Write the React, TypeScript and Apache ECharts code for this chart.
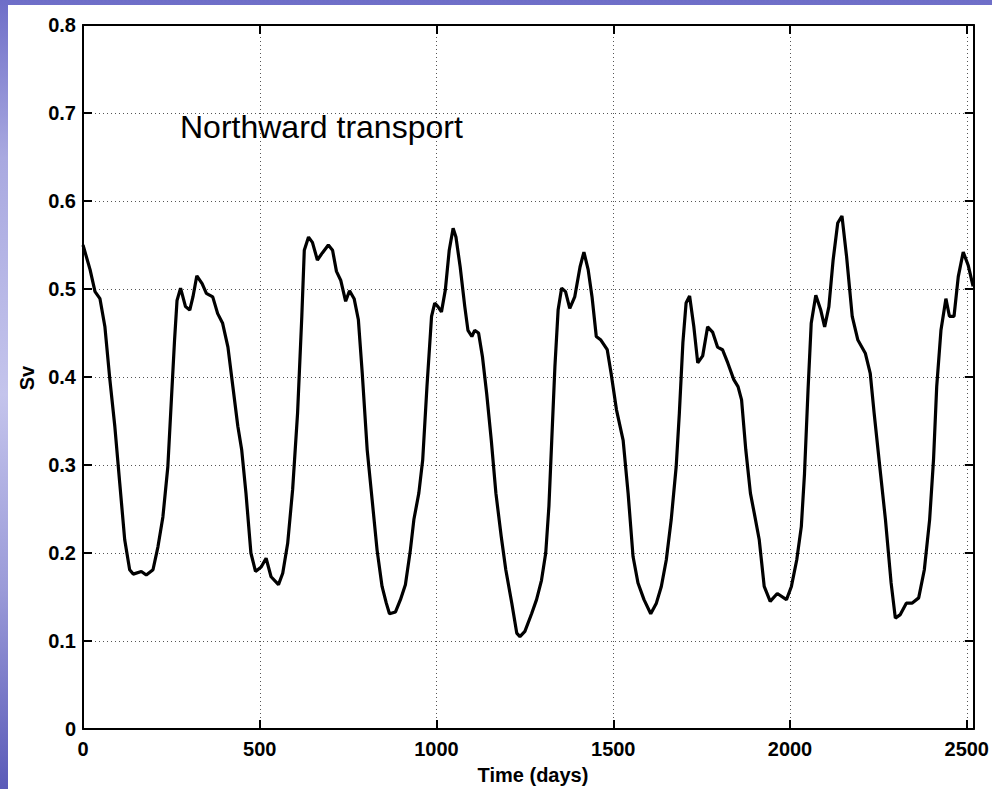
import React, { useEffect, useRef } from "react";
import * as echarts from "echarts";

const tDays: number[] = [
  0, 20, 34, 48, 62, 76, 90, 104, 118, 132, 142, 165, 179, 198, 212, 226, 240, 250, 259, 266,
  276, 290, 302, 311, 322, 337, 349, 367, 381, 395, 410, 424, 438, 449, 461, 475, 488, 504, 518, 532,
  553, 565, 579, 593, 607, 619, 626, 638, 649, 663, 677, 694, 706, 717, 729, 743, 754, 767, 779, 790,
  804, 818, 832, 846, 858, 867, 884, 898, 912, 926, 936, 950, 961, 973, 986, 995, 1004, 1014, 1025, 1036,
  1047, 1055, 1067, 1080, 1089, 1100, 1108, 1119, 1130, 1142, 1155, 1168, 1183, 1196, 1213, 1227, 1236, 1250, 1269, 1283,
  1297, 1309, 1318, 1326, 1335, 1344, 1354, 1365, 1377, 1391, 1406, 1417, 1429, 1440, 1452, 1465, 1483, 1494, 1509, 1528,
  1542, 1556, 1570, 1587, 1606, 1622, 1636, 1650, 1664, 1678, 1687, 1697, 1706, 1716, 1728, 1739, 1753, 1767, 1781, 1795,
  1809, 1824, 1841, 1853, 1863, 1875, 1888, 1899, 1913, 1927, 1944, 1964, 1990, 2004, 2019, 2032, 2041, 2051, 2060, 2073,
  2087, 2098, 2110, 2122, 2135, 2147, 2160, 2176, 2192, 2213, 2227, 2238, 2254, 2270, 2286, 2298, 2312, 2329, 2345, 2364,
  2380, 2395, 2406, 2415, 2427, 2441, 2451, 2464, 2476, 2490, 2504, 2518,
];

const svValues: number[] = [
  0.55, 0.522, 0.497, 0.489, 0.457, 0.397, 0.344, 0.279, 0.215, 0.181, 0.176, 0.179, 0.175, 0.181, 0.207, 0.241, 0.298, 0.374, 0.442, 0.487,
  0.501, 0.48, 0.476, 0.491, 0.515, 0.506, 0.495, 0.491, 0.472, 0.461, 0.434, 0.389, 0.344, 0.317, 0.268, 0.2, 0.179, 0.184, 0.194, 0.173,
  0.164, 0.177, 0.211, 0.272, 0.359, 0.469, 0.544, 0.559, 0.553, 0.533, 0.541, 0.55, 0.544, 0.52, 0.51, 0.486, 0.498, 0.489, 0.465, 0.404,
  0.317, 0.26, 0.203, 0.162, 0.143, 0.131, 0.133, 0.147, 0.164, 0.203, 0.238, 0.268, 0.306, 0.389, 0.469, 0.484, 0.48, 0.474, 0.499, 0.544,
  0.569, 0.559, 0.525, 0.48, 0.453, 0.446, 0.453, 0.45, 0.423, 0.381, 0.328, 0.268, 0.219, 0.181, 0.143, 0.109, 0.105, 0.111, 0.131, 0.147,
  0.169, 0.2, 0.253, 0.328, 0.412, 0.476, 0.501, 0.497, 0.478, 0.491, 0.525, 0.542, 0.522, 0.491, 0.446, 0.442, 0.431, 0.404, 0.363, 0.328,
  0.268, 0.196, 0.166, 0.147, 0.131, 0.143, 0.162, 0.192, 0.238, 0.298, 0.359, 0.439, 0.484, 0.492, 0.457, 0.416, 0.424, 0.457, 0.451, 0.434,
  0.431, 0.416, 0.397, 0.389, 0.374, 0.317, 0.268, 0.245, 0.215, 0.162, 0.145, 0.154, 0.147, 0.162, 0.192, 0.23, 0.29, 0.385, 0.461, 0.493,
  0.476, 0.457, 0.48, 0.533, 0.575, 0.583, 0.537, 0.469, 0.442, 0.427, 0.404, 0.359, 0.298, 0.238, 0.166, 0.126, 0.13, 0.143, 0.143, 0.149,
  0.181, 0.238, 0.306, 0.389, 0.453, 0.489, 0.469, 0.469, 0.514, 0.542, 0.527, 0.503,
];

const xTicks: number[] = [0, 500, 1000, 1500, 2000, 2500];
const yTickLabels: string[] = ["0", "0.1", "0.2", "0.3", "0.4", "0.5", "0.6", "0.7", "0.8"];

const annotation = "Northward transport";
const xTitle = "Time (days)";
const yTitle = "Sv";

export default function App() {
  const ref = useRef<HTMLDivElement>(null);

  useEffect(() => {
    if (!ref.current) return;
    const chart = echarts.init(ref.current, undefined, { renderer: "svg" });
    const labelFont = {
      fontFamily: "Liberation Sans, Arial, sans-serif",
      fontWeight: "bold" as const,
      fontSize: 20,
      color: "#000",
    };
    const gridLine = { show: true, lineStyle: { color: "#555", width: 1, type: [1, 3] as any } };
    const axisLine = { show: true, onZero: false, lineStyle: { color: "#000", width: 2 } };
    const tick = { show: true, inside: true, length: 9, lineStyle: { color: "#000", width: 2 } };
    const data = tDays.map((t, i) => [t, svValues[i]]);

    chart.setOption({
      animation: false,
      backgroundColor: "transparent",
      grid: { left: 75, right: 15, top: 20, bottom: 60, containLabel: false },
      xAxis: [
        {
          type: "value",
          min: 0,
          max: 2520,
          interval: 500,
          axisLine,
          axisTick: tick,
          splitLine: gridLine,
          axisLabel: {
            ...labelFont,
            margin: 10,
            formatter: (v: number) => (xTicks.includes(v) ? String(v) : ""),
          },
        },
        {
          type: "value",
          position: "top",
          min: 0,
          max: 2520,
          interval: 500,
          axisLine,
          axisTick: tick,
          splitLine: { show: false },
          axisLabel: { show: false },
        },
      ],
      yAxis: [
        {
          type: "value",
          min: 0,
          max: 0.8,
          interval: 0.1,
          axisLine,
          axisTick: tick,
          splitLine: gridLine,
          axisLabel: {
            ...labelFont,
            margin: 7,
            formatter: (v: number) => {
              const idx = Math.round(v * 10);
              return yTickLabels[idx] ?? "";
            },
          },
        },
        {
          type: "value",
          position: "right",
          min: 0,
          max: 0.8,
          interval: 0.1,
          axisLine,
          axisTick: tick,
          splitLine: { show: false },
          axisLabel: { show: false },
        },
      ],
      series: [
        {
          type: "line",
          data,
          xAxisIndex: 0,
          yAxisIndex: 0,
          showSymbol: false,
          symbol: "none",
          lineStyle: { color: "#000", width: 3.2 },
          clip: true,
          z: 5,
        },
      ],
      graphic: [
        {
          type: "text",
          x: 172,
          y: 122,
          z: 100,
          style: {
            text: annotation,
            fontFamily: "Liberation Sans, Arial, sans-serif",
            fontSize: 32,
            fill: "#000",
            align: "left",
            verticalAlign: "middle",
          },
        },
        {
          type: "text",
          x: 525,
          y: 770,
          z: 100,
          style: {
            text: xTitle,
            fontFamily: "Liberation Sans, Arial, sans-serif",
            fontWeight: "bold",
            fontSize: 20,
            fill: "#000",
            align: "center",
            verticalAlign: "middle",
          },
        },
        {
          type: "text",
          x: 19,
          y: 373,
          rotation: Math.PI / 2,
          z: 100,
          style: {
            text: yTitle,
            fontFamily: "Liberation Sans, Arial, sans-serif",
            fontWeight: "bold",
            fontSize: 20,
            fill: "#000",
            align: "center",
            verticalAlign: "middle",
          },
        },
      ],
    });
    return () => chart.dispose();
  }, []);

  return (
    <div
      style={{
        position: "fixed",
        left: 0,
        top: 0,
        width: 992,
        height: 789,
        background:
          "linear-gradient(180deg, #6e6ec8 0%, #a9a9e0 20%, #c4c4ec 50%, #9a9ad8 75%, #5a5ab8 100%)",
      }}
    >
      <div
        ref={ref}
        style={{
          position: "absolute",
          left: 8,
          top: 5,
          width: 984,
          height: 784,
          background: "#fff",
        }}
      />
    </div>
  );
}
